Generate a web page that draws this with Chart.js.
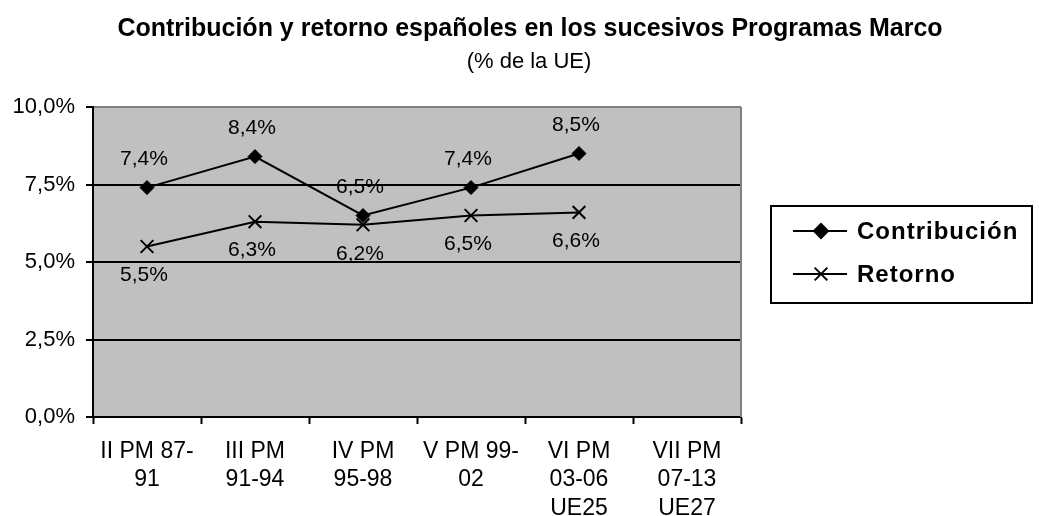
<!DOCTYPE html>
<html>
<head>
<meta charset="utf-8">
<script src="https://cdn.jsdelivr.net/npm/chart.js@4/dist/chart.umd.min.js"></script>
<style>
html,body{margin:0;padding:0;background:#fff;}
canvas{display:block;}
</style>
</head>
<body>
<canvas id="c" width="1039" height="516"></canvas>
<script>
const categories = [
  ["II PM 87-", "91"],
  ["III PM", "91-94"],
  ["IV PM", "95-98"],
  ["V PM 99-", "02"],
  ["VI PM", "03-06", "UE25"],
  ["VII PM", "07-13", "UE27"]
];
const contribucion = [7.4, 8.4, 6.5, 7.4, 8.5, null];
const retorno = [5.5, 6.3, 6.2, 6.5, 6.6, null];
const seriesNames = ["Contribución", "Retorno"];
const yTicks = [0, 2.5, 5, 7.5, 10];
const titleText = "Contribución y retorno españoles en los sucesivos Programas Marco";
const subtitleText = "(% de la UE)";

const FONT = "'Liberation Sans', Arial, sans-serif";
const fmt = v => v.toFixed(1).replace('.', ',') + '%';

const bgPlugin = {
  id: 'bg',
  beforeDraw(chart) {
    const {ctx, chartArea: a} = chart;
    ctx.save();
    ctx.fillStyle = '#C0C0C0';
    ctx.fillRect(a.left, a.top, a.right - a.left, a.bottom - a.top);
    ctx.restore();
  },
  afterDraw(chart) {
    const {ctx, chartArea: a} = chart;
    ctx.save();
    ctx.strokeStyle = '#808080';
    ctx.lineWidth = 2;
    ctx.beginPath();
    ctx.moveTo(a.right, a.top);
    ctx.lineTo(a.right, a.bottom);
    ctx.stroke();
    ctx.fillStyle = '#000';
    ctx.textAlign = 'center';
    ctx.textBaseline = 'middle';
    ctx.font = "bold 25px " + FONT;
    ctx.fillText(titleText, 530, 29);
    ctx.font = "22px " + FONT;
    ctx.fillText(subtitleText, 529, 62);
    ctx.restore();
  }
};

const labelPlugin = {
  id: 'dlabels',
  afterDatasetsDraw(chart) {
    const {ctx} = chart;
    ctx.save();
    ctx.fillStyle = '#000';
    ctx.font = "21px " + FONT;
    ctx.textAlign = 'center';
    ctx.textBaseline = 'middle';
    chart.data.datasets.forEach((ds, di) => {
      const meta = chart.getDatasetMeta(di);
      meta.data.forEach((pt, i) => {
        const v = ds.data[i];
        if (v === null || v === undefined) return;
        const dy = di === 0 ? -28 : 29;
        ctx.fillText(fmt(v), pt.x - 3, pt.y + dy);
      });
    });
    ctx.restore();
  }
};

const legendPlugin = {
  id: 'boxLegend',
  afterDraw(chart) {
    const {ctx} = chart;
    ctx.save();
    const bx = 771, by = 206, bw = 261, bh = 97;
    ctx.strokeStyle = '#000';
    ctx.lineWidth = 2;
    ctx.strokeRect(bx, by, bw, bh);
    const rows = [231, 274];
    chart.data.datasets.forEach((ds, di) => {
      const y = rows[di];
      ctx.strokeStyle = '#000';
      ctx.fillStyle = '#000';
      ctx.lineWidth = 2;
      ctx.beginPath();
      ctx.moveTo(793, y);
      ctx.lineTo(847, y);
      ctx.stroke();
      Chart.helpers.drawPoint(ctx, {
        pointStyle: ds.pointStyle, radius: ds.pointRadius, borderWidth: 2, rotation: 0
      }, 821, y);
      ctx.fillStyle = '#000';
      ctx.font = "bold 24px " + FONT;
      ctx.letterSpacing = '1px';
      ctx.textAlign = 'left';
      ctx.textBaseline = 'middle';
      ctx.fillText(ds.label, 857, y + 1);
      ctx.letterSpacing = '0px';
    });
    ctx.restore();
  }
};

new Chart(document.getElementById('c'), {
  type: 'line',
  data: {
    labels: categories,
    datasets: [
      {
        label: seriesNames[0], data: contribucion,
        borderColor: '#000', borderWidth: 2, tension: 0,
        pointStyle: 'rectRot', pointRadius: 7,
        pointBackgroundColor: '#000', pointBorderColor: '#000', pointBorderWidth: 1
      },
      {
        label: seriesNames[1], data: retorno,
        borderColor: '#000', borderWidth: 2, tension: 0,
        pointStyle: 'crossRot', pointRadius: 9,
        pointBackgroundColor: '#000', pointBorderColor: '#000', pointBorderWidth: 2
      }
    ]
  },
  options: {
    responsive: false,
    animation: false,
    events: [],
    layout: { padding: { top: 107, right: 298, bottom: 0, left: 0 } },
    plugins: { legend: { display: false }, title: { display: false }, tooltip: { enabled: false } },
    scales: {
      x: {
        offset: true,
        grid: { offset: true, drawOnChartArea: false, drawTicks: true, tickLength: 7, tickColor: '#000', tickWidth: 2 },
        border: { color: '#000', width: 2 },
        ticks: { color: '#000', font: { family: FONT, size: 23, lineHeight: 1.25 }, padding: 13, maxRotation: 0, autoSkip: false },
        afterFit(scale) { scale.height = 99; }
      },
      y: {
        min: 0, max: 10,
        afterBuildTicks(scale) { scale.ticks = yTicks.map(v => ({ value: v })); },
        grid: {
          color: ctx => (ctx.tick && ctx.tick.value === 10) ? '#808080' : '#000',
          lineWidth: 2, tickLength: 7, tickColor: '#000', tickWidth: 2
        },
        border: { color: '#000', width: 2 },
        ticks: { color: '#000', font: { family: FONT, size: 22 }, padding: 11, callback: v => fmt(v) },
        afterFit(scale) { scale.width = 93; }
      }
    }
  },
  plugins: [bgPlugin, labelPlugin, legendPlugin]
});
</script>
</body>
</html>
